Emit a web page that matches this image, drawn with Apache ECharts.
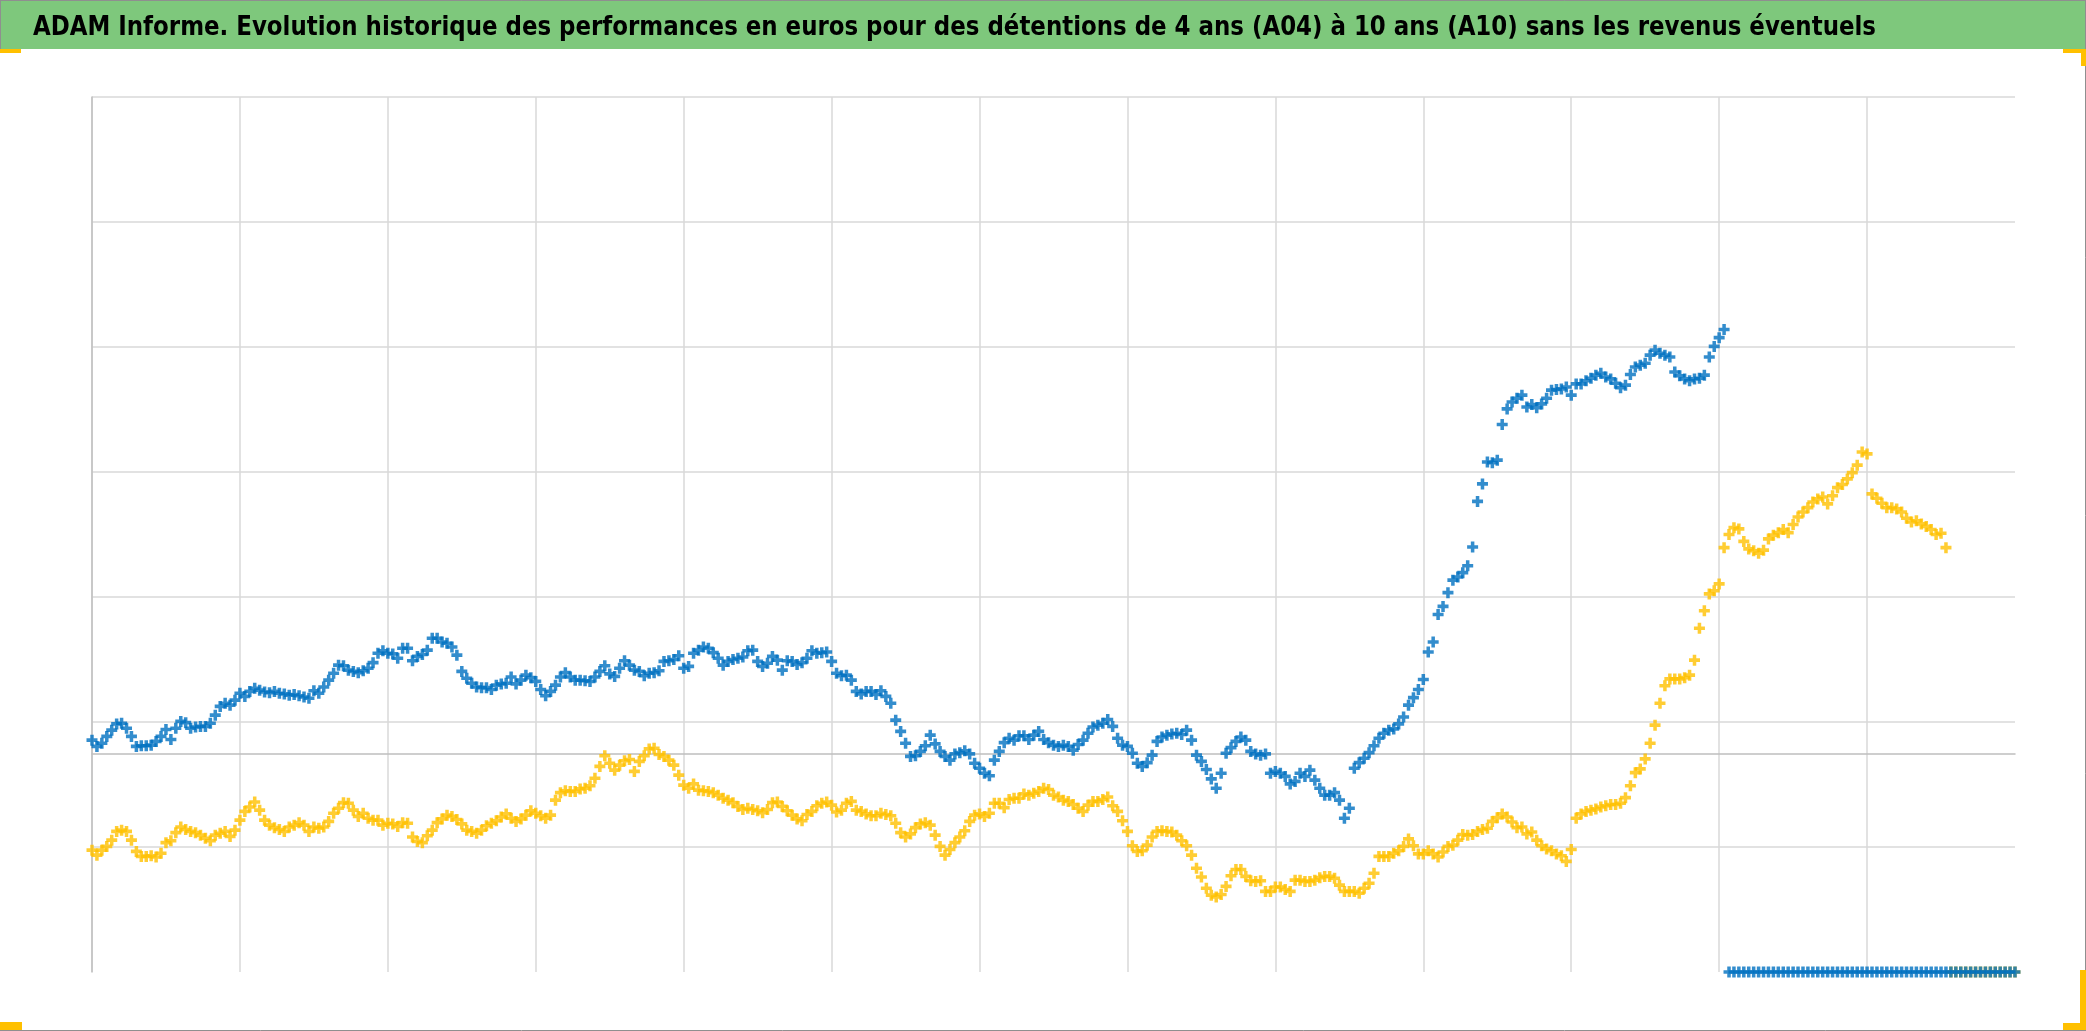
<!DOCTYPE html>
<html>
<head>
<meta charset="utf-8">
<script src="https://cdn.jsdelivr.net/npm/echarts@6/dist/echarts.min.js"></script>
<style>
html,body{margin:0;padding:0;background:#fff;}
#c{width:2086px;height:1031px;}
</style>
</head>
<body>
<div id="c"></div>
<script>
// ---- data (performance in %, one reading every 1/30 of a year) ----
const TITLE = "ADAM Informe. Evolution historique des performances en euros pour des détentions de 4 ans (A04) à 10 ans (A10) sans les revenus éventuels";
const pointsPerYear = 30;
const yMin = -35, yMax = 105, yStep = 20;
const xYears = 13;

const blueA04 = [
2.1,1.1,1.6,2.7,3.7,4.7,4.8,4.0,2.7,1.1,1.2,1.2,1.3,1.9,2.7,3.8,2.2,4.0,5.1,4.9,
4.0,4.2,4.3,4.3,4.8,6.1,7.5,8.0,7.7,8.5,9.6,9.1,9.9,10.4,10.1,9.8,9.7,9.9,9.6,9.5,
9.3,9.4,9.2,9.0,8.8,10.0,9.6,10.6,11.7,12.8,14.1,14.0,13.3,13.1,12.9,13.2,13.6,14.5,16.0,16.4,
16.0,15.9,15.2,16.8,16.8,14.8,15.5,15.8,16.5,18.4,18.4,17.8,17.6,17.0,15.7,13.1,12.0,11.2,10.6,10.5,
10.5,10.2,10.9,11.1,11.2,12.2,11.1,11.7,12.5,12.1,11.5,10.2,9.2,9.9,10.9,12.2,12.9,12.2,11.7,11.7,
11.6,11.5,12.2,13.1,14.0,12.7,12.3,13.6,14.8,14.1,13.3,13.1,12.4,12.8,12.9,13.2,14.7,14.8,15.0,15.6,
13.6,13.9,16.0,16.5,17.0,16.8,16.1,15.2,14.1,14.7,15.0,15.2,15.4,16.4,16.5,14.7,13.9,14.4,15.5,14.9,
13.3,14.8,14.7,14.2,14.5,15.2,16.4,16.0,16.1,16.2,14.7,12.8,12.4,12.5,11.7,9.9,9.5,9.9,9.9,9.4,
10.0,9.1,8.0,5.3,3.5,1.6,-0.5,-0.4,0.3,1.2,2.9,1.5,0.3,-0.5,-1.1,-0.1,0.1,0.4,-0.1,-1.6,
-2.4,-3.2,-3.6,-1.1,0.3,1.7,2.4,2.1,2.8,2.8,2.2,2.9,3.5,2.2,1.7,1.3,1.1,1.3,1.1,0.5,
1.4,2.1,3.2,4.2,4.5,4.8,5.4,4.3,2.4,1.3,1.1,0.0,-1.6,-2.1,-1.5,-0.3,1.9,2.6,2.9,3.1,
3.2,3.0,3.7,2.1,-0.3,-1.3,-2.6,-4.1,-5.6,-3.2,0.0,0.9,1.9,2.6,2.1,0.3,-0.1,-0.3,-0.1,-3.2,
-2.9,-3.2,-3.7,-4.9,-4.5,-3.2,-3.7,-2.7,-4.3,-5.6,-6.7,-6.7,-6.3,-7.5,-10.4,-8.8,-2.4,-1.5,-0.8,0.1,
1.2,2.4,3.2,3.7,3.9,4.7,5.8,7.7,8.9,10.2,11.8,16.2,17.8,22.2,23.5,25.7,27.7,28.2,28.9,30.0,
33.0,40.3,43.1,46.6,46.5,46.9,52.6,55.1,56.2,56.8,57.3,55.4,55.8,55.3,55.9,56.8,58.1,58.2,58.3,58.6,
57.3,59.1,59.1,59.6,60.0,60.5,60.8,60.2,59.9,59.2,58.5,58.9,60.6,61.8,62.1,62.4,63.7,64.5,64.0,63.7,
63.4,61.0,60.4,59.9,59.6,59.9,60.0,60.5,63.4,65.1,66.5,67.8];
const blueA04Tail = [
-35,-35,-35,-35,-35,-35,-35,-35,-35,-35,
-35,-35,-35,-35,-35,-35,-35,-35,-35,-35,
-35,-35,-35,-35,-35,-35,-35,-35,-35,-35,
-35,-35,-35,-35,-35,-35,-35,-35,-35,-35,
-35,-35,-35,-35,-35,-35,-35,-35,-35,-35,
-35,-35,-35,-35,-35,-35,-35,-35,-35];

const yellowA10 = [
-15.5,-16.3,-15.5,-14.9,-13.9,-12.5,-12.3,-12.5,-13.9,-15.7,-16.5,-16.5,-16.4,-16.6,-16.0,-14.3,-14.0,-12.7,-11.8,-12.2,
-12.5,-12.7,-13.1,-13.6,-14.0,-13.1,-12.8,-12.5,-13.3,-12.3,-10.7,-9.3,-8.6,-7.8,-9.1,-10.7,-11.5,-11.9,-12.2,-12.5,
-11.8,-11.5,-11.1,-11.5,-12.5,-11.8,-12.0,-11.8,-10.9,-9.6,-8.8,-7.9,-8.0,-9.1,-10.1,-9.6,-10.4,-10.7,-10.7,-11.5,
-11.2,-11.3,-11.7,-11.1,-11.2,-13.4,-14.1,-14.3,-13.2,-12.3,-11.1,-10.5,-9.9,-10.1,-10.6,-11.3,-12.3,-12.5,-12.8,-12.3,
-11.6,-11.2,-10.8,-10.2,-9.7,-10.4,-10.9,-10.5,-9.9,-9.2,-9.6,-10.0,-10.4,-9.9,-7.5,-6.3,-6.0,-6.1,-6.1,-5.7,
-5.6,-5.2,-4.0,-2.1,-0.4,-1.6,-2.7,-1.9,-1.2,-1.0,-2.9,-1.3,-0.4,0.7,0.8,-0.2,-0.5,-1.1,-1.9,-3.5,
-5.1,-5.6,-4.9,-5.9,-6.0,-6.1,-6.3,-6.7,-7.2,-7.5,-7.9,-8.5,-9.0,-8.8,-9.0,-9.2,-9.5,-9.0,-7.9,-7.8,
-8.5,-9.2,-9.9,-10.5,-10.8,-9.8,-9.3,-8.4,-8.0,-7.8,-8.3,-9.4,-9.1,-8.0,-7.7,-9.1,-9.3,-9.7,-10.0,-10.0,
-9.6,-9.8,-10.0,-11.2,-12.7,-13.4,-12.9,-11.9,-11.3,-11.1,-11.5,-13.1,-14.9,-16.3,-15.4,-14.3,-13.4,-12.4,-10.9,-9.9,
-9.7,-10.1,-9.6,-8.0,-8.0,-8.7,-7.4,-7.2,-7.2,-6.5,-6.7,-6.4,-6.1,-5.6,-5.8,-6.7,-7.0,-7.5,-7.7,-8.2,
-8.8,-9.3,-8.3,-7.7,-7.7,-7.4,-7.0,-8.4,-9.3,-10.8,-12.5,-14.8,-15.7,-15.6,-14.7,-13.4,-12.5,-12.4,-12.5,-12.6,
-13.1,-14.0,-14.8,-16.3,-18.4,-19.8,-21.6,-22.7,-23.0,-22.6,-21.3,-19.6,-18.6,-18.6,-19.7,-20.4,-20.5,-20.4,-22.1,-22.1,
-21.4,-21.4,-21.8,-22.1,-20.3,-20.3,-20.5,-20.5,-20.3,-19.9,-19.7,-19.7,-20.0,-21.1,-22.1,-22.1,-22.1,-22.4,-21.6,-20.8,
-19.2,-16.5,-16.5,-16.5,-16.0,-15.6,-14.9,-13.7,-14.8,-16.1,-16.1,-15.6,-16.1,-16.6,-15.8,-14.9,-14.7,-13.9,-13.0,-13.1,
-13.0,-12.5,-12.2,-12.0,-10.9,-10.3,-9.7,-10.2,-11.0,-11.9,-11.8,-12.9,-12.6,-13.9,-14.8,-15.3,-15.6,-16.1,-16.4,-17.3,
-15.4,-10.4,-9.7,-9.3,-9.1,-8.9,-8.6,-8.4,-8.2,-8.2,-8.0,-7.1,-5.2,-3.1,-2.5,-0.9,1.6,4.5,8.0,10.8,
11.9,11.9,11.9,12.1,12.5,14.9,20.0,22.8,25.5,26.0,27.1,32.9,35.0,36.1,35.9,33.9,32.7,32.4,32.0,32.5,
34.3,34.9,35.3,35.8,35.3,36.6,37.8,38.6,39.3,40.2,40.7,41.0,39.9,41.2,42.5,43.0,43.9,44.9,46.1,48.2,
47.9,41.5,40.8,40.0,39.3,39.3,39.1,38.6,37.6,37.0,37.2,36.7,36.3,35.8,35.0,35.2,32.9];
const yellowA10Tail = [-35,-35,-35,-35,-35,-35,-35,-35,-35,-35,-35,-35,-35,-35];

// ---- build ----
function toPoints(values, tail){
  const all = values.concat(tail);
  return all.map((v, i) => [i / pointsPerYear, v]);
}
const PLUS = 'path://M3.4,0H6.6V3.4H10V6.6H6.6V10H3.4V6.6H0V3.4H3.4Z';

// title: condensed bold face, stretched horizontally to the reference width
const FONT_FAM = '"DejaVu Sans Condensed", "DejaVu Sans", sans-serif';
const TITLE_SIZE = 27;
const mctx = document.createElement('canvas').getContext('2d');
mctx.font = 'bold ' + TITLE_SIZE + 'px ' + FONT_FAM;
const titleScaleX = 1843 / mctx.measureText(TITLE).width;

const chart = echarts.init(document.getElementById('c'), null, {renderer: 'canvas'});
const gridLeft = 92, gridTop = 97, gridRight = 71, gridBottom = 59;
const gold = '#FFC000';

chart.setOption({
  backgroundColor: '#ffffff',
  animation: false,
  graphic: [
    {type: 'rect', z: -10, shape: {x: 0, y: 0, width: 2086, height: 49}, style: {fill: '#7ec87c'}},
    {type: 'text', x: 33, y: 28, scaleX: titleScaleX, scaleY: 1,
      style: {text: TITLE, fill: '#000', font: 'bold ' + TITLE_SIZE + 'px ' + FONT_FAM,
              align: 'left', verticalAlign: 'middle'}},
    {type: 'line', shape: {x1: 0, y1: 0.5, x2: 2086, y2: 0.5}, style: {stroke: '#8f8f8f', lineWidth: 1}},
    {type: 'line', shape: {x1: 0.5, y1: 0, x2: 0.5, y2: 49}, style: {stroke: '#8f8f8f', lineWidth: 1}},
    {type: 'line', shape: {x1: 2085.5, y1: 0, x2: 2085.5, y2: 1031}, style: {stroke: '#8f8f8f', lineWidth: 1}},
    {type: 'line', shape: {x1: 0, y1: 1030.5, x2: 2086, y2: 1030.5}, style: {stroke: '#8f8f8f', lineWidth: 1}},
    // corner handles
    {type: 'rect', shape: {x: 0, y: 49, width: 21, height: 4}, style: {fill: gold}},
    {type: 'rect', shape: {x: 2063, y: 49, width: 23, height: 4}, style: {fill: gold}},
    {type: 'rect', shape: {x: 2081, y: 49, width: 5, height: 17}, style: {fill: gold}},
    {type: 'rect', shape: {x: 0, y: 1022, width: 22, height: 8}, style: {fill: gold}},
    {type: 'rect', shape: {x: 2063, y: 1023, width: 23, height: 7}, style: {fill: gold}},
    {type: 'rect', shape: {x: 2080, y: 970, width: 6, height: 60}, style: {fill: gold}}
  ],
  grid: {left: gridLeft, top: gridTop, right: gridRight, bottom: gridBottom, containLabel: false},
  xAxis: {
    type: 'value', min: 0, max: xYears, interval: 1,
    axisLine: {show: true, onZero: true, onZeroAxisIndex: 0, lineStyle: {color: '#bfbfbf', width: 1.5}},
    axisTick: {show: false}, axisLabel: {show: false},
    splitLine: {show: true, showMaxLine: false, lineStyle: {color: '#d9d9d9', width: 1.5}}
  },
  yAxis: [
    {
      type: 'value', min: yMin, max: yMax,
      axisLine: {show: true, onZero: false, lineStyle: {color: '#bfbfbf', width: 1.5}},
      axisTick: {show: false}, axisLabel: {show: false},
      splitLine: {show: false}
    },
    {
      // gridline helper: gridlines every yStep starting from yMin
      type: 'value', min: 0, max: (yMax - yMin) / yStep, interval: 1,
      position: 'left',
      axisLine: {show: false}, axisTick: {show: false}, axisLabel: {show: false},
      splitLine: {show: true, showMinLine: false, lineStyle: {color: '#d9d9d9', width: 1.5}}
    }
  ],
  series: [
    {
      name: 'A10', type: 'scatter', yAxisIndex: 0, clip: false,
      symbol: PLUS, symbolSize: 11,
      itemStyle: {color: gold},
      data: toPoints(yellowA10, yellowA10Tail)
    },
    {
      name: 'A04', type: 'scatter', yAxisIndex: 0, clip: false,
      symbol: PLUS, symbolSize: 11,
      itemStyle: {color: '#0070C0'},
      data: toPoints(blueA04, blueA04Tail)
    }
  ]
});
</script>
</body>
</html>
